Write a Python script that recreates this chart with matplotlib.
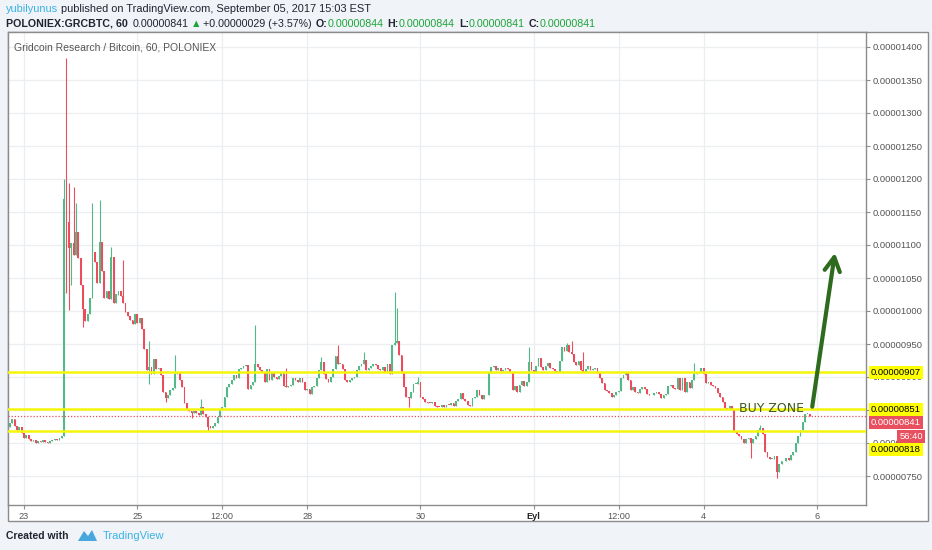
import matplotlib
matplotlib.use('Agg')
import matplotlib.pyplot as plt
from matplotlib.patches import Rectangle, Polygon
from matplotlib.transforms import blended_transform_factory

W, H = 932, 550

# ---------------- data (prices in 1e-8 BTC, hourly candles) ----------------
first_open = 825
closes = [
    # Aug 22 evening - Aug 23 afternoon
    830, 836, 826, 820, 824, 815, 808, 812, 806, 803, 805, 800, 803, 801, 804, 802,
    800, 803, 804, 806, 805, 808, 810,
    # pump
    1170, 1135, 1095, 1103, 1085, 1120, 1080, 1040, 1003, 985, 995, 1020, 1090, 1075,
    1042, 1104, 1060, 1020, 1030, 1018, 1082, 1012, 1025, 1030, 1022, 1012, 998, 992,
    986, 980, 995, 982, 990,
    # Aug 25 - Aug 27
    972, 942, 911, 915, 905, 928, 912, 914, 903, 878, 868, 872, 880, 884, 905, 907,
    895, 885, 860, 850, 848, 845, 848, 846, 843, 855, 844, 840, 825, 823, 826, 830,
    840, 850, 855, 870, 885, 890, 896, 903, 898, 912, 914, 916, 918, 882, 888, 892,
    920, 915, 910, 908, 893, 912, 895, 906, 900,
    # Aug 27 - Aug 30
    897, 902, 906, 887, 885, 886, 888, 898, 896, 892, 898, 893, 880, 882, 874, 885,
    887, 898, 910, 923, 905, 897, 893, 900, 912, 932, 920, 920, 912, 896, 893, 895,
    898, 900, 910, 916, 920, 926, 911, 913, 916, 920, 918, 912, 910, 915, 908, 920,
    905, 948, 952, 955, 933, 906, 885, 870, 868,
    # Aug 30 - Sep 1
    878, 889, 890, 893, 870, 866, 862, 861, 860, 862, 856, 855, 854, 858, 854, 858,
    857, 860, 856, 863, 866, 876, 866, 864, 858, 856, 868, 870, 880, 872, 866, 872,
    872, 906, 915, 916, 910, 914, 909, 911, 914, 912, 908, 880, 886, 878, 888, 894,
    886, 892, 923, 910, 908, 916, 929, 915, 910,
    # Sep 1 - Sep 3
    917, 921, 914, 912, 909, 908, 924, 945, 940, 948, 938, 935, 923, 918, 925, 910,
    908, 912, 916, 910, 912, 913, 906, 898, 891, 880, 879, 876, 870, 873, 878, 879,
    898, 903, 906, 895, 880, 885, 878, 876, 882, 885, 882, 875, 872, 873, 876, 878,
    874, 868, 872, 874, 887, 888, 884, 882, 898,
    # Sep 3 - Sep 5
    880, 898, 878, 893, 884, 895, 904, 906, 908, 914, 904, 891, 892, 888, 886, 884,
    876, 870, 862, 853, 852, 856, 850, 817, 813, 810, 806, 800, 806, 808, 800, 806,
    810, 820, 822, 814, 786, 779, 776, 776, 780, 756, 768, 772, 773, 778, 774, 782,
    786, 800, 810, 820, 832, 844, 844, 841,
]
high_wicks = {23: 1200, 24: 1383, 25: 1194, 27: 1188, 28: 1164, 35: 1164, 38: 1168,
              43: 1097, 48: 1077, 59: 955, 70: 933, 81: 867, 104: 979, 117: 914,
              132: 930, 139: 948, 150: 938, 163: 1029, 164: 1005, 173: 900, 220: 945,
              236: 952, 238: 955, 243: 938, 290: 921, 318: 828}
low_wicks = {24: 1027, 25: 1001, 26: 1040, 31: 976, 59: 890, 66: 862, 77: 838,
             84: 818, 169: 855, 314: 777, 325: 747}
start_hour = -6                      # first candle: Aug 22, 18:00
price_ticks = list(range(750, 1401, 50))
hidden_tick_labels = [850]           # fully covered by the 851 level label
time_tick_hours = [0, 48, 84, 120, 168, 216, 252, 288, 336]
time_tick_labels = ['23', '25', '12:00', '28', '30', 'Eyl', '12:00', '4', '6']
levels = [907, 851, 818]
level_label_shift = [0, 0, -18]      # scale labels pushed apart (pixels)
last_price = 841
countdown = '56:40'
arrow_start = (334.0, 855)
arrow_end = (343.6, 1088)
buy_zone_pos = (303.0, 853)

UP, DOWN = '#53b987', '#eb4d5c'
FONT = ['Liberation Sans', 'DejaVu Sans']

def fx(px):
    return px / W

def fy(py):
    return 1 - py / H

fig = plt.figure(figsize=(W / 100, H / 100), dpi=100)
fig.patch.set_facecolor('#f0f3f7')

frame = Rectangle((fx(8), fy(521)), fx(928) - fx(8), fy(32) - fy(521),
                  transform=fig.transFigure, facecolor='white',
                  edgecolor='#8c8c8c', lw=1.0, zorder=-5)
fig.patches.append(frame)

ax = fig.add_axes([fx(8), fy(505), fx(866) - fx(8), fy(32) - fy(505)])
ax.set_zorder(1)
ax.set_facecolor('white')

def y2p(py):
    return 1400 - (py - 47) / 0.66

ax.set_ylim(y2p(505), y2p(32))
ax.set_xlim((8 - 24) / 2.36, (866 - 24) / 2.36)

# candles
opens = [first_open] + closes[:-1]
hours = [start_hour + i for i in range(len(closes))]
body_bot, body_h, cols, his, los = [], [], [], [], []
for i, (o, c) in enumerate(zip(opens, closes)):
    col = UP if c >= o else DOWN
    cols.append(col)
    body_bot.append(min(o, c))
    body_h.append(max(abs(c - o), 1.4))
    his.append(max(high_wicks.get(i, max(o, c)), max(o, c)))
    los.append(min(low_wicks.get(i, min(o, c)), min(o, c)))
ax.vlines(hours, los, his, colors=cols, lw=0.8, zorder=2)
ax.bar(hours, body_h, bottom=body_bot, width=0.75, color=cols, lw=0, zorder=2.1)

# grid
ax.set_yticks(price_ticks)
ax.set_yticklabels(['' if v in hidden_tick_labels else f'{v * 1e-8:.8f}'
                    for v in price_ticks])
ax.set_xticks(time_tick_hours)
ax.set_xticklabels(time_tick_labels)
ax.grid(True, color='#eceff2', lw=0.9, zorder=0)
ax.set_axisbelow(True)

ax.yaxis.tick_right()
ax.tick_params(axis='y', direction='out', length=3, color='#8c8c8c',
               labelcolor='#555555', labelsize=6.8, pad=2)
ax.tick_params(axis='x', direction='out', length=3, color='#8c8c8c',
               labelcolor='#555555', labelsize=6.6, pad=2)
for lab in ax.get_yticklabels() + ax.get_xticklabels():
    lab.set_family(FONT)
ax.get_xticklabels()[5].set_color('#222222')
ax.get_xticklabels()[5].set_fontweight('bold')
for sp in ax.spines.values():
    sp.set_color('#8c8c8c')
    sp.set_linewidth(1.0)

# horizontal levels
for lv in levels:
    ax.axhline(lv, color='#f5f50a', lw=1.8, zorder=3)
ax.axhline(last_price, color='#e8505f', lw=0.9, ls=(0, (1, 1.5)), zorder=3)

# price boxes on the right scale (stacked like the platform does)
tr = blended_transform_factory(ax.transAxes, ax.transData)
xb = 1 + 5 / 858
box_kw = dict(xycoords=tr, textcoords='offset pixels', ha='left', va='center',
              fontsize=6.8, family=FONT, annotation_clip=False, zorder=6)
for lv, sh in zip(levels, level_label_shift):
    ax.annotate(f'{lv * 1e-8:.8f}', xy=(xb, lv), xytext=(0, sh), color='black',
                bbox=dict(boxstyle='square,pad=0.2', fc='#ffff00', ec='none'),
                **box_kw)
ax.annotate(f'{last_price * 1e-8:.8f}', xy=(xb, last_price), xytext=(0, -6.5),
            color='white', bbox=dict(boxstyle='square,pad=0.2', fc='#e8505f', ec='none'),
            **box_kw)
ax.annotate(countdown, xy=(1 + 57 / 858, last_price), xycoords=tr,
            xytext=(0, -20.5), textcoords='offset pixels', ha='right', va='center',
            fontsize=6.8, family=FONT, color='white', annotation_clip=False,
            zorder=6, bbox=dict(boxstyle='square,pad=0.2', fc='#e8505f', ec='none'))

# drawing annotations
ax.annotate('', xy=arrow_end, xytext=arrow_start,
            arrowprops=dict(arrowstyle='->,head_length=1.0,head_width=0.55',
                            color='#2f6b1f', lw=3, shrinkA=0, shrinkB=0,
                            mutation_scale=10), zorder=7)
ax.text(buy_zone_pos[0], buy_zone_pos[1], 'BUY ZONE', ha='left', va='center',
        fontsize=9, color='#3b5a1c', family=['DejaVu Sans'], zorder=7)

# chart title inside pane
fig.text(fx(14), fy(48), 'Gridcoin Research / Bitcoin, 60, POLONIEX', ha='left',
         va='center', fontsize=7.5, color='#555555', family=FONT)

# header lines
renderer = fig.canvas.get_renderer()

def segments(x_px, y_px, parts, size):
    x = x_px
    for s, color, weight, gap in parts:
        t = fig.text(fx(x), fy(y_px), s, color=color, fontsize=size,
                     fontweight=weight, family=FONT, ha='left', va='center')
        bb = t.get_window_extent(renderer)
        x = bb.x1 + gap

BLUE = '#3bb3e4'
DARK = '#1e2430'
GREEN = '#1fa43a'
segments(6, 9, [('yubilyunus', BLUE, 'normal', 3),
                ('published on TradingView.com, September 05, 2017 15:03 EST', DARK, 'normal', 0)], 7.9)
segments(6, 24, [('POLONIEX:GRCBTC, 60', DARK, 'bold', 5),
                 ('0.00000841', DARK, 'normal', 2),
                 ('\u25b2', GREEN, 'normal', 2),
                 ('+0.00000029 (+3.57%)', DARK, 'normal', 4),
                 ('O:', DARK, 'bold', 0), ('0.00000844', GREEN, 'normal', 4),
                 ('H:', DARK, 'bold', 0), ('0.00000844', GREEN, 'normal', 4),
                 ('L:', DARK, 'bold', 0), ('0.00000841', GREEN, 'normal', 4),
                 ('C:', DARK, 'bold', 0), ('0.00000841', GREEN, 'normal', 0)], 7.7)

# footer
fig.text(fx(6), fy(536), 'Created with', ha='left', va='center', fontsize=7.5,
         color=DARK, family=FONT, fontweight='bold')
logo = Polygon([(fx(78), fy(541)), (fx(84), fy(531)), (fx(88), fy(536)),
                (fx(92), fy(530)), (fx(97), fy(541))], closed=True,
               transform=fig.transFigure, fc='#48a7dc', ec='none')
fig.patches.append(logo)
fig.text(fx(103), fy(536), 'TradingView', ha='left', va='center', fontsize=8,
         color=BLUE, family=FONT)

fig.savefig('out.png', dpi=100, facecolor=fig.get_facecolor())
